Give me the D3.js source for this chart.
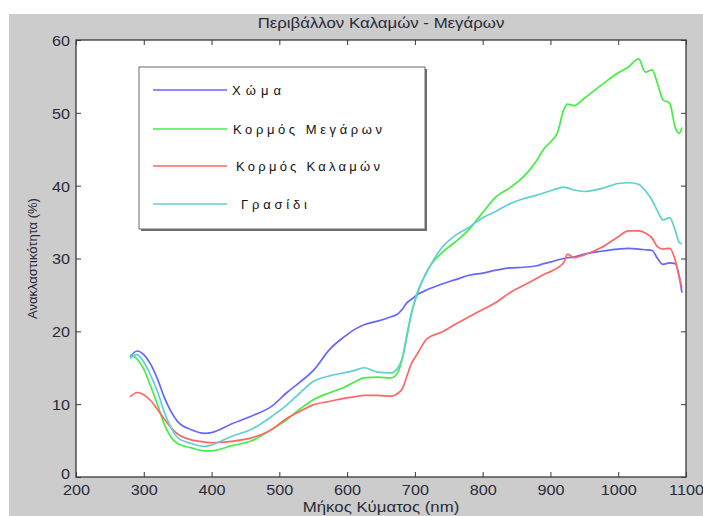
<!DOCTYPE html>
<html>
<head>
<meta charset="utf-8">
<script src="https://cdn.jsdelivr.net/npm/d3@7"></script>
<style>
  html, body { margin: 0; padding: 0; background: #ffffff; }
  svg { display: block; }
  text { font-family: "Liberation Sans", Arial, sans-serif; }
</style>
</head>
<body>
<svg id="chart" width="703" height="516"></svg>
<script>
// Wavelength samples (nm) shared by all four spectra
const wavelengths = [280,290,300,310,320,330,340,350,370,390,400,430,460,490,510,530,550,575,595,610,625,645,665,675,682,688,695,703,718,740,760,780,800,820,840,860,880,890,900,910,920,925,935,950,975,1000,1015,1030,1040,1050,1058,1066,1076,1084,1090,1094];

// Reflectance (%) per surface
const soil = [16.5,17.3,16.8,15.5,13.5,11.0,9.0,7.6,6.5,6.0,6.1,7.3,8.4,9.8,11.5,13.0,14.6,17.6,19.2,20.2,20.9,21.4,22.0,22.4,23.1,23.9,24.4,25.0,25.7,26.5,27.1,27.7,28.0,28.4,28.7,28.8,29.0,29.3,29.5,29.8,30.0,30.1,30.2,30.6,31.0,31.3,31.4,31.3,31.2,31.1,30.0,29.2,29.4,29.3,27.5,25.3];
const trunkMegara = [16.8,16.2,14.8,12.5,10.0,7.3,5.5,4.6,4.0,3.6,3.6,4.3,5.0,6.6,7.8,9.3,10.6,11.6,12.3,13.0,13.6,13.7,13.6,14.4,16.5,19.2,22.5,25.0,28.3,30.8,32.3,34.0,36.3,38.5,39.7,41.2,43.5,45.0,46.0,47.2,50.5,51.2,51.0,52.0,53.8,55.5,56.3,57.4,55.6,55.9,54.0,51.8,51.3,48.0,47.2,48.0];
const trunkKalamos = [11.0,11.6,11.3,10.5,9.3,8.0,6.8,5.9,5.1,4.8,4.7,4.9,5.4,6.6,8.0,9.0,9.9,10.4,10.8,11.0,11.2,11.2,11.1,11.5,12.2,13.8,15.6,16.8,19.0,19.9,21.0,22.0,23.0,24.0,25.3,26.3,27.3,27.8,28.2,28.7,29.5,30.6,30.1,30.5,31.5,33.0,33.8,33.8,33.5,32.8,31.6,31.3,31.4,29.8,27.5,26.0];
const grass = [16.3,16.8,15.8,14.0,11.8,9.0,6.8,5.4,4.6,4.2,4.4,5.6,6.6,8.4,9.8,11.5,13.1,13.9,14.3,14.6,15.0,14.4,14.3,15.0,16.5,19.5,22.5,25.2,28.2,31.5,33.2,34.3,35.6,36.5,37.5,38.2,38.7,39.0,39.3,39.6,39.8,39.7,39.4,39.2,39.6,40.3,40.4,40.2,39.3,38.0,36.5,35.3,35.6,33.9,32.2,32.0];

const seriesNames = ["Χώμα", "Κορμός Μεγάρων", "Κορμός Καλαμών", "Γρασίδι"];
const seriesValues = [soil, trunkMegara, trunkKalamos, grass];
const seriesColors = ["#6666ff", "#44ee44", "#ff6666", "#5fd0d0"];

const xTicks = [200,300,400,500,600,700,800,900,1000,1100];
const yTicks = [0,10,20,30,40,50,60];

const titleText = "Περιβάλλον Καλαμών - Μεγάρων";
const xLabel = "Μήκος Κύματος (nm)";
const yLabel = "Ανακλαστικότητα (%)";

const svg = d3.select("#chart");
const W = 703, H = 516;
const plot = { left: 76, top: 40, right: 686, bottom: 477 };

// stretch a horizontal text element to a given width factor
function widen(sel, factor) {
  sel.each(function () {
    const len = this.getComputedTextLength();
    d3.select(this).attr("textLength", len * factor).attr("lengthAdjust", "spacingAndGlyphs");
  });
}

// figure background
svg.append("rect").attr("x", 9).attr("y", 14).attr("width", W - 9).attr("height", H - 14).attr("fill", "#cccccc");

const x = d3.scaleLinear().domain([200, 1100]).range([plot.left, plot.right]);
const y = d3.scaleLinear().domain([0, 60]).range([plot.bottom, plot.top]);

// plot area
svg.append("rect")
  .attr("x", plot.left).attr("y", plot.top)
  .attr("width", plot.right - plot.left).attr("height", plot.bottom - plot.top)
  .attr("fill", "#ffffff");

// spectra
const line = d3.line().x((d, i) => x(wavelengths[i])).y(d => y(d)).curve(d3.curveMonotoneX);
const lines = svg.append("g");
seriesValues.forEach((vals, k) => {
  lines.append("path")
    .datum(vals)
    .attr("d", line)
    .attr("fill", "none")
    .attr("stroke", seriesColors[k])
    .attr("stroke-width", 1.7)
    .attr("stroke-linejoin", "round");
});

// axes with inward ticks on all four sides
const tickLen = 5;
const axisColor = "#3a3a3a";
const bottomAxis = d3.axisBottom(x).tickValues(xTicks).tickSize(-tickLen).tickFormat(d3.format("d"));
const topAxis = d3.axisTop(x).tickValues(xTicks).tickSize(-tickLen).tickFormat("");
const leftAxis = d3.axisLeft(y).tickValues(yTicks).tickSize(-tickLen).tickFormat(d3.format("d"));
const rightAxis = d3.axisRight(y).tickValues(yTicks).tickSize(-tickLen).tickFormat("");

function styleAxis(g) {
  g.select(".domain").remove();
  g.selectAll(".tick line").attr("stroke", axisColor).attr("stroke-width", 1);
  g.selectAll(".tick text")
    .attr("fill", "#2a2a3a")
    .style("font-size", "15px")
    .style("font-family", "'Liberation Sans', Arial, sans-serif");
}

const gB = svg.append("g").attr("transform", `translate(0,${plot.bottom})`).call(bottomAxis).call(styleAxis);
gB.selectAll(".tick text").attr("y", 7).attr("dy", "0.71em");
const gT = svg.append("g").attr("transform", `translate(0,${plot.top})`).call(topAxis).call(styleAxis);
const gL = svg.append("g").attr("transform", `translate(${plot.left},0)`).call(leftAxis).call(styleAxis);
// the lowest label sits a little higher so it clears the first x label
gL.selectAll(".tick text").attr("x", -6).attr("dy", d => d === 0 ? "0.1em" : "0.36em");
const gR = svg.append("g").attr("transform", `translate(${plot.right},0)`).call(rightAxis).call(styleAxis);
widen(gB.selectAll(".tick text"), 1.08);
widen(gL.selectAll(".tick text"), 1.08);

// plot frame
svg.append("rect")
  .attr("x", plot.left).attr("y", plot.top)
  .attr("width", plot.right - plot.left).attr("height", plot.bottom - plot.top)
  .attr("fill", "none").attr("stroke", axisColor).attr("stroke-width", 1.3);

// title and axis labels
const title = svg.append("text")
  .attr("x", (plot.left + plot.right) / 2).attr("y", 28)
  .attr("text-anchor", "middle").attr("fill", "#2a2a3a")
  .style("font-size", "14px").text(titleText);
widen(title, 1.2);

const xl = svg.append("text")
  .attr("x", (plot.left + plot.right) / 2).attr("y", 512)
  .attr("text-anchor", "middle").attr("fill", "#2a2a3a")
  .style("font-size", "14px").text(xLabel);
widen(xl, 1.2);

svg.append("text")
  .attr("transform", `translate(37,${(plot.top + plot.bottom) / 2}) rotate(-90)`)
  .attr("text-anchor", "middle").attr("fill", "#2a2a3a")
  .style("font-size", "13px").text(yLabel);

// legend
const legend = { x: 139, y: 67, w: 286, h: 162 };
svg.append("rect")
  .attr("x", legend.x + 2).attr("y", legend.y + 2).attr("width", legend.w).attr("height", legend.h)
  .attr("fill", "#707070");
svg.append("rect")
  .attr("x", legend.x).attr("y", legend.y).attr("width", legend.w).attr("height", legend.h)
  .attr("fill", "#ffffff").attr("stroke", "#6a6a6a").attr("stroke-width", 1);

const legendRows = [90, 129, 166, 204];
const legendTextX = [232, 233, 236, 241];
const legendTextW = [49, 149, 144, 66];
seriesNames.forEach((name, k) => {
  svg.append("line")
    .attr("x1", 153).attr("x2", 227)
    .attr("y1", legendRows[k]).attr("y2", legendRows[k])
    .attr("stroke", seriesColors[k]).attr("stroke-width", 1.7);
  svg.append("text")
    .attr("x", legendTextX[k]).attr("y", legendRows[k] + 5)
    .attr("fill", "#111111").style("font-size", "13px")
    .attr("textLength", legendTextW[k]).attr("lengthAdjust", "spacing")
    .text(name);
});
</script>
</body>
</html>
